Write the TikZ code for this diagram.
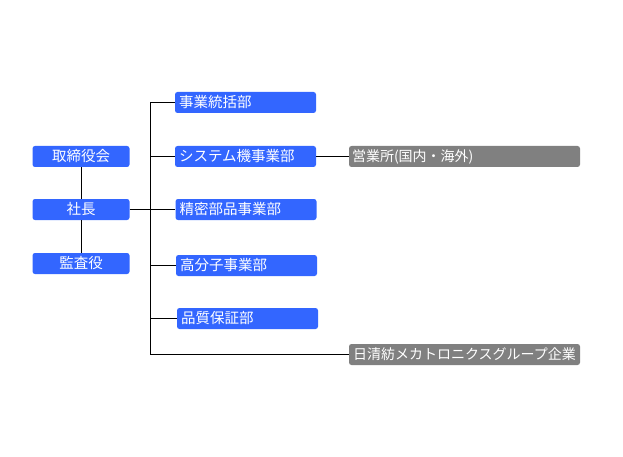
\documentclass[tikz,border=0pt]{standalone}
\usepackage{fontspec}
\setmainfont{Noto Sans CJK JP}
\definecolor{orgblue}{RGB}{51,102,255}
\definecolor{orggray}{RGB}{128,128,128}
\begin{document}
\begin{tikzpicture}[x=1pt, y=-1pt,
    topbox/.style={rectangle, rounded corners=2.5pt, fill=orgblue, text=white, minimum width=97pt, minimum height=21pt, inner sep=0pt, font=\fontsize{14.5}{16}\selectfont},
    deptbox/.style={rectangle, rounded corners=2.5pt, fill=orgblue, text=white, text width=133pt, inner xsep=4pt, inner ysep=0pt, minimum height=21pt, align=left, font=\fontsize{14.5}{16}\selectfont},
    groupbox/.style={rectangle, rounded corners=2.5pt, fill=orggray, text=white, text width=225pt, inner xsep=3pt, inner ysep=0pt, minimum height=21pt, font=\fontsize{14}{16}\selectfont},
    link/.style={draw=black, line width=1pt}]
    \useasboundingbox (0,0) rectangle (623,457);

    % Trunk
    \coordinate (trunktop) at (150,102.5);
    \coordinate (trunkbot) at (150,354.5);

    % Left column
    \node[topbox] (board) at (81,156.5) {取締役会};
    \node[topbox] (president) at (81,209.5) {社長};
    \node[topbox] (auditor) at (81,263.5) {監査役};

    % Divisions
    \node[deptbox] (control) at (245.5,102.5) {事業統括部};
    \node[deptbox] (systems) at (245.5,156.5) {システム機事業部};
    \node[deptbox] (precision) at (246,209.5) {精密部品事業部};
    \node[deptbox] (polymer) at (246.5,265.5) {高分子事業部};
    \node[deptbox] (quality) at (247.5,318.5) {品質保証部};

    % Offices and group
    \node[groupbox, align=left] (offices) at (464.5,156.5) {営業所(国内・海外)};
    \node[groupbox, align=center] (group) at (464.5,354.5) {日清紡メカトロニクスグループ企業};

    % Lines
    \draw[link] (board) -- (president);
    \draw[link] (president) -- (auditor);
    \draw[link] (president.east) -- (president.east -| trunktop);
    \draw[link] (trunktop) -- (trunkbot);
    \draw[link] (control.west -| trunktop) -- (control.west);
    \draw[link] (systems.west -| trunktop) -- (systems.west);
    \draw[link] (precision.west -| trunktop) -- (precision.west);
    \draw[link] (polymer.west -| trunktop) -- (polymer.west);
    \draw[link] (quality.west -| trunktop) -- (quality.west);
    \draw[link] (trunkbot) -- (group.west);
    \draw[link] (systems) -- (offices);
\end{tikzpicture}
\end{document}
